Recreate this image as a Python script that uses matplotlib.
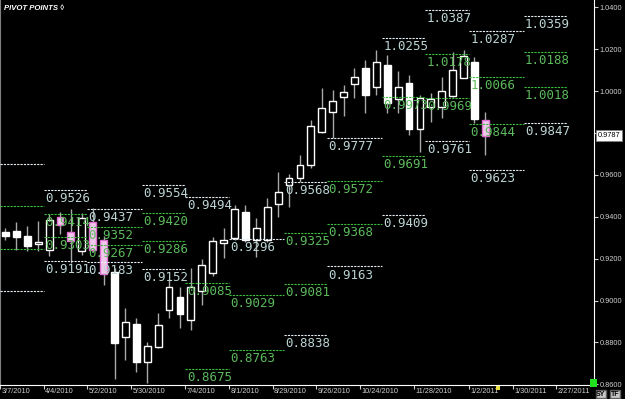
import matplotlib
matplotlib.use('Agg')
import matplotlib.pyplot as plt
import matplotlib.dates as mdates
import matplotlib.transforms as mtransforms
from matplotlib.patches import Rectangle
from matplotlib.ticker import FixedLocator, FormatStrFormatter
import pandas as pd

# weekly candles, week starting on Sunday
week_start = pd.date_range('2010-03-07', periods=45, freq='7D')
opens = [0.9328, 0.9333, 0.9309, 0.9268, 0.9241, 0.9399, 0.9328, 0.9238, 0.9376, 0.9289,
         0.9137, 0.8824, 0.8886, 0.8705, 0.8779, 0.8954, 0.9018, 0.8907, 0.9045, 0.9134,
         0.9273, 0.9300, 0.9424, 0.9289, 0.9289, 0.9459, 0.9551, 0.9586, 0.9647, 0.9806,
         0.9899, 0.9970, 1.0032, 1.0112, 1.0021, 1.0125, 0.9962, 1.0037, 0.9819, 0.9925,
         0.9925, 0.9978, 1.0064, 1.0140, 0.9862]
highs = [0.9346, 0.9373, 0.9357, 0.9380, 0.9413, 0.9422, 0.9437, 0.9419, 0.9442, 0.9308,
         0.9155, 0.8964, 0.8918, 0.8800, 0.8942, 0.9101, 0.9066, 0.9154, 0.9197, 0.9305,
         0.9348, 0.9456, 0.9456, 0.9392, 0.9488, 0.9615, 0.9604, 0.9695, 0.9862, 1.0013,
         1.0005, 1.0029, 1.0109, 1.0148, 1.0196, 1.0172, 1.0096, 1.0077, 0.9981, 0.9990,
         1.0069, 1.0185, 1.0196, 1.0164, 0.9902]
lows = [0.9289, 0.9241, 0.9236, 0.9236, 0.9212, 0.9320, 0.9180, 0.9217, 0.9232, 0.9074,
        0.8628, 0.8716, 0.8660, 0.8606, 0.8772, 0.8918, 0.8867, 0.8859, 0.8978, 0.9117,
        0.9201, 0.9289, 0.9281, 0.9209, 0.9281, 0.9400, 0.9448, 0.9567, 0.9631, 0.9798,
        0.9775, 0.9881, 0.9966, 0.9897, 0.9981, 0.9894, 0.9894, 0.9790, 0.9710, 0.9854,
        0.9870, 0.9973, 1.0061, 0.9846, 0.9695]
closes = [0.9308, 0.9302, 0.9262, 0.9279, 0.9384, 0.9360, 0.9285, 0.9394, 0.9241, 0.9126,
          0.8798, 0.8899, 0.8708, 0.8784, 0.8883, 0.9066, 0.8935, 0.9066, 0.9169, 0.9285,
          0.9289, 0.9435, 0.9289, 0.9348, 0.9448, 0.9517, 0.9586, 0.9647, 0.9833, 0.9918,
          0.9954, 0.9997, 1.0069, 0.9981, 1.0140, 0.9942, 1.0021, 0.9819, 0.9966, 0.9962,
          1.0000, 1.0101, 1.0169, 0.9865, 0.9787]
pink_weeks = ['2010-04-11', '2010-04-18', '2010-05-02', '2010-05-09', '2011-01-09']

# monthly pivot segments (first Sunday of each month) and their levels
seg_bounds = ['2010-03-07', '2010-04-04', '2010-05-02', '2010-06-06', '2010-07-04',
              '2010-08-01', '2010-09-05', '2010-10-03', '2010-11-07', '2010-12-05',
              '2011-01-02', '2011-02-06', '2011-03-06']
r2 = [0.9652, 0.9526, 0.9437, 0.9554, 0.9494, 0.9296, 0.9568, 0.9777, 1.0255, 1.0387, 1.0287, 1.0359]
r1 = [0.9450, 0.9414, 0.9352, 0.9420, 0.9085, 0.9029, 0.9325, 0.9572, 0.9973, 1.0178, 1.0066, 1.0188]
s1 = [0.9248, 0.9303, 0.9267, 0.9286, 0.8675, 0.8763, 0.9081, 0.9368, 0.9691, 0.9969, 0.9844, 1.0018]
s2 = [0.9046, 0.9191, 0.9183, 0.9152, 0.8266, 0.8497, 0.8838, 0.9163, 0.9409, 0.9761, 0.9623, 0.9847]

tick_dates = ['2010-03-07', '2010-04-04', '2010-05-02', '2010-05-30', '2010-07-04', '2010-08-01',
              '2010-08-29', '2010-09-26', '2010-10-24', '2010-11-28', '2011-01-02', '2011-01-30',
              '2011-02-27']
tick_labels = ['3/7/2010', '4/4/2010', '5/2/2010', '5/30/2010', '7/4/2010', '8/1/2010',
               '8/29/2010', '9/26/2010', '10/24/2010', '11/28/2010', '1/2/2011', '1/30/2011',
               '2/27/2011']
y_ticks = [0.86, 0.88, 0.90, 0.92, 0.94, 0.96, 0.98, 1.00, 1.02, 1.04]

WHITE_LINE = '#e4ecf4'
WHITE_TEXT = '#bcd4d4'
GREEN_LINE = '#38c038'
GREEN_TEXT = '#5cba5c'
AXIS_TEXT = '#d0d0d0'
SMALL = dict(family='Liberation Sans', fontsize=5.3)

fig = plt.figure(figsize=(6.25, 3.99), dpi=100, facecolor='black')
ax = fig.add_axes([0.0, 14 / 399, 594 / 625, 385 / 399])
ax.set_facecolor('black')

x = mdates.date2num(week_start) + 3.5
pink = set(mdates.date2num(pd.to_datetime(pink_weeks)) + 3.5)
for xi, o, h, l, c in zip(x, opens, highs, lows, closes):
    ax.vlines(xi, l, h, colors='#a8a8a8', lw=1, zorder=2)
    edge = '#e070d0' if xi in pink else 'white'
    face = 'black' if c >= o else ('#f0c8ec' if xi in pink else 'white')
    ax.bar(xi, abs(c - o), bottom=min(o, c), width=4.4, color=face,
           edgecolor=edge, lw=1, zorder=3)

# pivot levels
x0 = mdates.date2num(pd.Timestamp('2010-04-04')) - 24.8
x1 = mdates.date2num(pd.Timestamp('2010-04-04')) + 353.2
bounds = mdates.date2num(pd.to_datetime(seg_bounds))
for i in range(len(r2)):
    a, b = bounds[i], bounds[i + 1]
    for lvl, lc, tc in [(r2[i], WHITE_LINE, WHITE_TEXT), (r1[i], GREEN_LINE, GREEN_TEXT),
                        (s1[i], GREEN_LINE, GREEN_TEXT), (s2[i], WHITE_LINE, WHITE_TEXT)]:
        ax.hlines(lvl, a, b, colors=lc, lw=0.8, linestyles=(0, (2, 1)), zorder=4)
        if a > x0:
            ax.annotate('%.4f' % lvl, (a, lvl), xytext=(1, -1.5), textcoords='offset points',
                        ha='left', va='top', color=tc, fontsize=9,
                        family='DejaVu Sans Mono', zorder=5, annotation_clip=True)

ax.set_xlim(x0, x1)
ax.set_ylim(0.8597, 1.0435)

# axes styling
ax.spines['top'].set_visible(False)
ax.spines['right'].set_color('white')
ax.spines['bottom'].set_color('white')
ax.spines['left'].set_color('#808080')
ax.yaxis.tick_right()
ax.yaxis.set_major_locator(FixedLocator(y_ticks))
ax.yaxis.set_major_formatter(FormatStrFormatter('%.4f'))
ax.tick_params(axis='y', colors=AXIS_TEXT, length=3, pad=1, direction='out')
for lbl in ax.get_yticklabels():
    lbl.set_family(SMALL['family'])
    lbl.set_fontsize(SMALL['fontsize'])

tick_pos = mdates.date2num(pd.to_datetime(tick_dates))
ax.set_xticks(tick_pos)
ax.set_xticklabels([])
ax.tick_params(axis='x', colors=AXIS_TEXT, length=3, direction='out')
xtrans = mtransforms.blended_transform_factory(ax.transData, ax.transAxes)
for tp, tl in zip(tick_pos, tick_labels):
    ax.annotate(tl, (tp, 0), xycoords=xtrans, xytext=(1, -2.5), textcoords='offset points',
                ha='left', va='top', color=AXIS_TEXT, annotation_clip=False, **SMALL)

# last price box on the price axis
trans = mtransforms.blended_transform_factory(ax.transAxes, ax.transData)
ax.text(1.006, closes[-1], '%.4f' % closes[-1], transform=trans, ha='left', va='center',
        color='black', zorder=6, clip_on=False,
        bbox=dict(boxstyle='square,pad=0.25', facecolor='white', edgecolor='#808080', lw=0.6),
        **SMALL)

fig.text(4 / 625, 1 - 5 / 399, 'PIVOT POINTS ◊', color='white', fontsize=5.6,
         family='Liberation Sans', fontweight='bold', fontstyle='italic', va='top', ha='left')

# status markers of the charting window
fig.patches.append(Rectangle((590 / 625, 12 / 399), 7 / 625, 8 / 399, transform=fig.transFigure,
                             facecolor='#20e020', edgecolor='none'))
fig.patches.append(Rectangle((496 / 625, 9 / 399), 4 / 625, 4 / 399, transform=fig.transFigure,
                             facecolor='#e8e040', edgecolor='none'))
fig.text(601 / 625, 5 / 399, 'SY', fontsize=5, family='Liberation Sans', color='black',
         ha='center', va='center', fontweight='bold',
         bbox=dict(boxstyle='square,pad=0.1', facecolor='#c8c8c8', edgecolor='#606060'))
fig.text(615 / 625, 5 / 399, 'TF', fontsize=5, family='Liberation Sans', color='black',
         ha='center', va='center', fontweight='bold',
         bbox=dict(boxstyle='square,pad=0.1', facecolor='#c8c8c8', edgecolor='#606060'))

fig.savefig('out.png', dpi=100, facecolor='black')
